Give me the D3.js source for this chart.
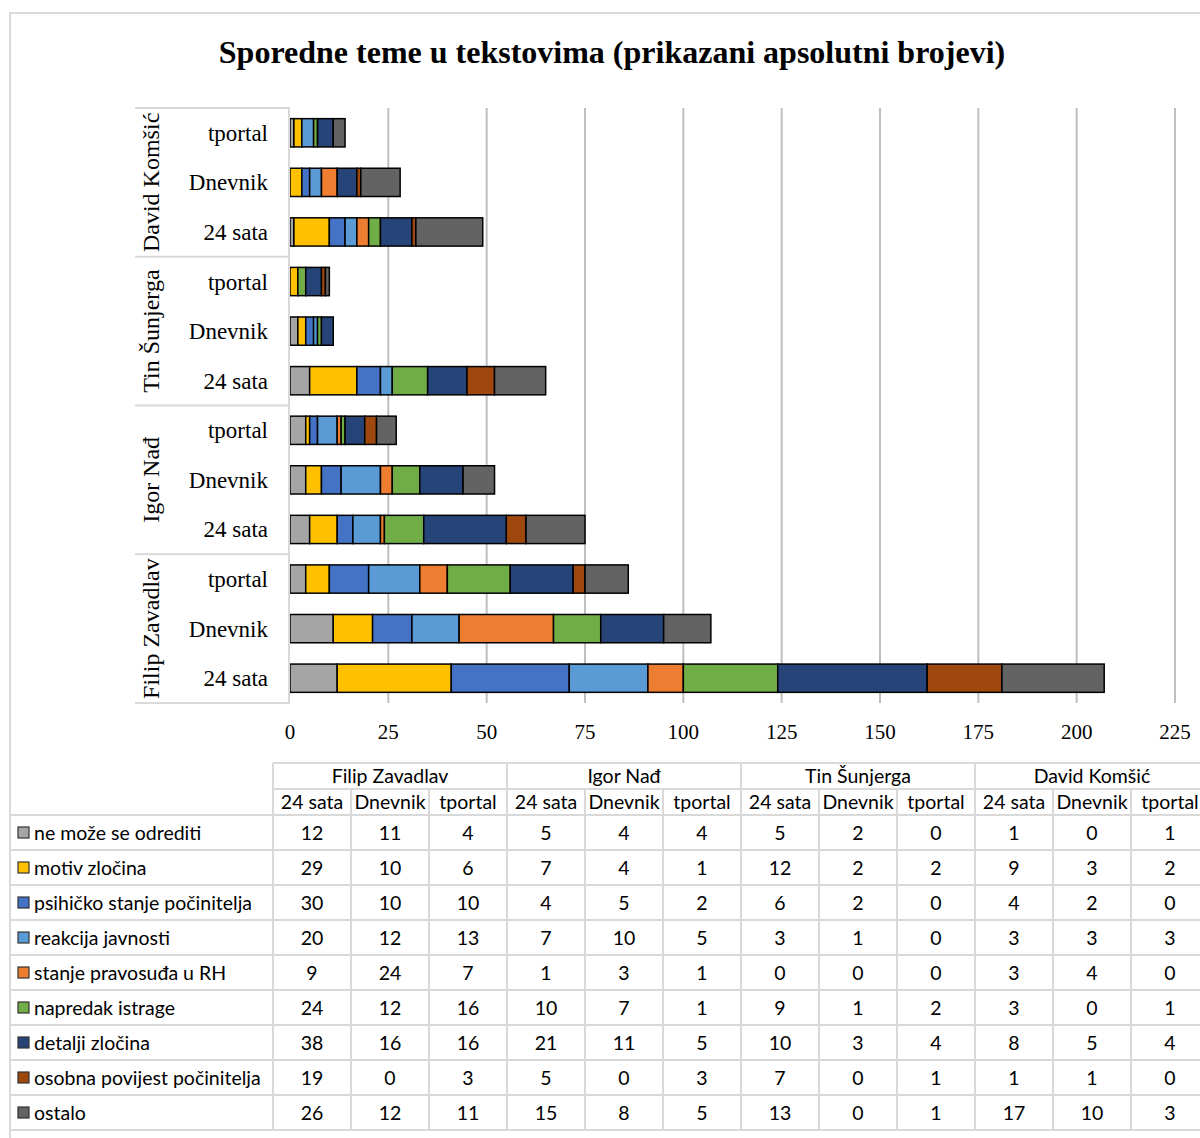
<!DOCTYPE html>
<html>
<head>
<meta charset="utf-8">
<script src="https://cdn.jsdelivr.net/npm/d3@7"></script>
<style>
  body { margin: 0; background: #fff; }
  svg { display: block; }
</style>
</head>
<body>
<div id="chart-area"></div>
<script>
// ---------- data ----------
let groups = ['Filip Zavadlav', 'Igor Nađ', 'Tin Šunjerga', 'David Komšić'];
let outlets = ['24 sata', 'Dnevnik', 'tportal'];
let topics = ['ne može se odrediti', 'motiv zločina', 'psihičko stanje počinitelja',
	'reakcija javnosti', 'stanje pravosuđa u RH', 'napredak istrage',
	'detalji zločina', 'osobna povijest počinitelja', 'ostalo'];
let colors = ['#a5a5a5', '#ffc000', '#4472c4', '#5b9bd5', '#ed7d31',
	'#70ad47', '#264478', '#9e480e', '#636363'];
let xTicks = [0, 25, 50, 75, 100, 125, 150, 175, 200, 225];

// one value per group/outlet, same order as the table columns
let neMozeSe   = [12, 11, 4, 5, 4, 4, 5, 2, 0, 1, 0, 1];
let motiv      = [29, 10, 6, 7, 4, 1, 12, 2, 2, 9, 3, 2];
let psihicko   = [30, 10, 10, 4, 5, 2, 6, 2, 0, 4, 2, 0];
let reakcija   = [20, 12, 13, 7, 10, 5, 3, 1, 0, 3, 3, 3];
let pravosude  = [9, 24, 7, 1, 3, 1, 0, 0, 0, 3, 4, 0];
let napredak   = [24, 12, 16, 10, 7, 1, 9, 1, 2, 3, 0, 1];
let detalji    = [38, 16, 16, 21, 11, 5, 10, 3, 4, 8, 5, 4];
let povijest   = [19, 0, 3, 5, 0, 3, 7, 0, 1, 1, 1, 0];
let ostalo     = [26, 12, 11, 15, 8, 5, 13, 0, 1, 17, 10, 3];

let series = [neMozeSe, motiv, psihicko, reakcija, pravosude, napredak, detalji, povijest, ostalo];

// ---------- canvas ----------
let W = 1200, H = 1138;
let svg = d3.select('#chart-area').append('svg')
	.attr('width', W)
	.attr('height', H);

let serif = '"Liberation Serif", "Times New Roman", serif';
let sans = 'Lato, "Open Sans", sans-serif';
let lineCol = '#d9d9d9';

// outer chart border
svg.append('rect')
	.attr('x', 10).attr('y', 13)
	.attr('width', 1400).attr('height', 1400)
	.attr('fill', 'none')
	.attr('stroke', lineCol)
	.attr('stroke-width', 2);

// title
svg.append('text')
	.attr('x', 612)
	.attr('y', 63)
	.attr('text-anchor', 'middle')
	.attr('font-family', serif)
	.attr('font-weight', 'bold')
	.attr('font-size', '32px')
	.text('Sporedne teme u tekstovima (prikazani apsolutni brojevi)');

// ---------- rows ----------
let rows = [];
groups.forEach((g, gi) => outlets.forEach((o, oi) => {
	rows.push({ key: g + '|' + o, group: g, outlet: o, col: gi * 3 + oi });
}));
let rowsTopDown = rows.slice().reverse();

let x = d3.scaleLinear()
	.domain([0, 225])
	.range([290, 1175]);

let y = d3.scaleBand()
	.domain(rowsTopDown.map(d => d.key))
	.range([108, 703])
	.paddingInner(0.43)
	.paddingOuter(0.215);

let step = y.step();

// gridlines
svg.append('g')
	.selectAll('line')
	.data(xTicks.slice(1))
	.enter()
	.append('line')
		.attr('x1', d => x(d))
		.attr('x2', d => x(d))
		.attr('y1', 108)
		.attr('y2', 703)
		.attr('stroke', '#bfbfbf')
		.attr('stroke-width', 2);

// x tick labels
svg.append('g')
	.selectAll('text')
	.data(xTicks)
	.enter()
	.append('text')
		.attr('x', d => x(d))
		.attr('y', 739)
		.attr('text-anchor', 'middle')
		.attr('font-family', serif)
		.attr('font-size', '21px')
		.text(d => d);

// stacked bars
let table = rows.map(r => {
	let obj = { key: r.key };
	topics.forEach((t, i) => obj[t] = series[i][r.col]);
	return obj;
});
let stacked = d3.stack().keys(topics)(table);

let layers = svg.append('g')
	.selectAll('g')
	.data(stacked)
	.enter()
	.append('g')
		.attr('fill', (d, i) => colors[i]);

layers.selectAll('rect')
	.data(d => d)
	.enter()
	.append('rect')
		.attr('x', d => x(d[0]))
		.attr('y', d => y(d.data.key))
		.attr('width', d => x(d[1]) - x(d[0]))
		.attr('height', y.bandwidth())
		.attr('stroke', '#000')
		.attr('stroke-width', 1.5);

// ---------- category axis box ----------
let axisG = svg.append('g');
let groupEdges = groups.map((g, gi) => {
	let keys = rows.filter(r => r.group === g).map(r => r.key);
	let ys = keys.map(k => y(k) - (step - y.bandwidth()) / 2);
	return { group: g, top: d3.min(ys), bottom: d3.max(ys) + step };
});

axisG.selectAll('line.sep')
	.data([108].concat(groupEdges.map(d => d.bottom)))
	.enter()
	.append('line')
		.attr('class', 'sep')
		.attr('x1', 135)
		.attr('x2', 290)
		.attr('y1', d => d)
		.attr('y2', d => d)
		.attr('stroke', lineCol)
		.attr('stroke-width', 2);

axisG.append('line')
	.attr('x1', 289).attr('x2', 289)
	.attr('y1', 108).attr('y2', 703)
	.attr('stroke', lineCol)
	.attr('stroke-width', 2);

axisG.selectAll('text.outlet')
	.data(rows)
	.enter()
	.append('text')
		.attr('class', 'outlet')
		.attr('x', 268)
		.attr('y', d => y(d.key) + y.bandwidth() / 2 + 8)
		.attr('text-anchor', 'end')
		.attr('font-family', serif)
		.attr('font-size', '23px')
		.text(d => d.outlet);

axisG.selectAll('text.group')
	.data(groupEdges)
	.enter()
	.append('text')
		.attr('class', 'group')
		.attr('transform', d => 'translate(159,' + (d.top + d.bottom) / 2 + ') rotate(-90)')
		.attr('text-anchor', 'middle')
		.attr('font-family', serif)
		.attr('font-size', '24px')
		.text(d => d.group);

// ---------- data table ----------
let tb = svg.append('g');
let colX = d3.scaleBand()
	.domain(rows.map(r => r.key))
	.range([273, 273 + 78 * 12]);
let cw = colX.bandwidth();
let head1 = 763, head2 = 789, body0 = 815, rowH = 35;
let bodyEnd = body0 + rowH * topics.length;
let fs = '19.5px';

function hline(y0, x1, x2) {
	tb.append('line')
		.attr('x1', x1).attr('x2', x2)
		.attr('y1', y0).attr('y2', y0)
		.attr('stroke', lineCol).attr('stroke-width', 2);
}
function vline(x0, y1, y2) {
	tb.append('line')
		.attr('x1', x0).attr('x2', x0)
		.attr('y1', y1).attr('y2', y2)
		.attr('stroke', lineCol).attr('stroke-width', 2);
}

hline(head1, 273, 1220);
hline(head2, 273, 1220);
for (let i = 0; i <= topics.length; i++) hline(body0 + i * rowH, 10, 1220);

groups.forEach((g, gi) => vline(273 + gi * cw * 3, head1, head2));
vline(273 + 12 * cw, head1, head2);
rows.forEach(r => vline(colX(r.key), head2, bodyEnd));
vline(273 + 12 * cw, head2, bodyEnd);
vline(10, body0, bodyEnd);

// header texts
tb.selectAll('text.gh')
	.data(groups)
	.enter()
	.append('text')
		.attr('class', 'gh')
		.attr('x', (d, i) => 273 + cw * 3 * i + cw * 1.5)
		.attr('y', head1 + 20)
		.attr('text-anchor', 'middle')
		.attr('font-family', sans)
		.attr('font-size', fs)
		.text(d => d);

tb.selectAll('text.oh')
	.data(rows)
	.enter()
	.append('text')
		.attr('class', 'oh')
		.attr('x', d => colX(d.key) + cw / 2)
		.attr('y', head2 + 20)
		.attr('text-anchor', 'middle')
		.attr('font-family', sans)
		.attr('font-size', fs)
		.text(d => d.outlet);

// body
topics.forEach((t, ti) => {
	let cy = body0 + ti * rowH + rowH / 2;
	tb.append('rect')
		.attr('x', 18).attr('y', cy - 5.5)
		.attr('width', 11).attr('height', 11)
		.attr('fill', colors[ti])
		.attr('stroke', '#333')
		.attr('stroke-width', 1.2);
	tb.append('text')
		.attr('x', 34).attr('y', cy + 7)
		.attr('font-family', sans)
		.attr('font-size', fs)
		.text(t);
	tb.selectAll(null)
		.data(rows)
		.enter()
		.append('text')
			.attr('x', d => colX(d.key) + cw / 2)
			.attr('y', cy + 7)
			.attr('text-anchor', 'middle')
			.attr('font-family', sans)
			.attr('font-size', fs)
			.text(d => series[ti][d.col]);
});
</script>
</body>
</html>
